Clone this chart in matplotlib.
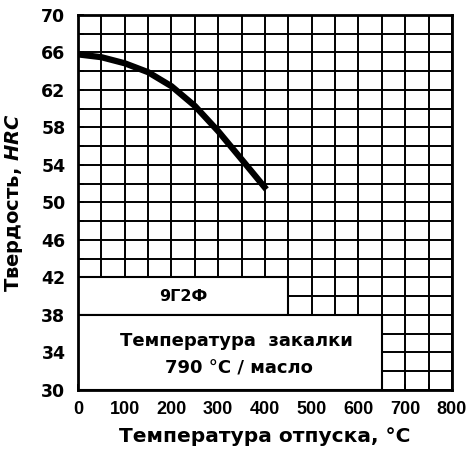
import matplotlib
matplotlib.use("Agg")
import matplotlib.pyplot as plt
import numpy as np
from matplotlib.patches import Rectangle
from matplotlib.ticker import MultipleLocator

# hardness curve (tempering temperature, HRC)
temp = [0, 50, 100, 150, 200, 250, 300, 350, 403]
hrc = [65.8, 65.5, 64.85, 63.9, 62.4, 60.3, 57.6, 54.6, 51.4]

x_ticks = list(range(0, 801, 100))
y_ticks = list(range(30, 71, 4))

steel = "9Г2Ф"
quench_line1 = "Температура  закалки"
quench_line2 = "790 °C / масло"

plt.rcParams["font.family"] = ["DejaVu Sans"]
plt.rcParams["mathtext.fontset"] = "custom"
plt.rcParams["mathtext.it"] = "DejaVu Sans:italic:bold"

fig = plt.figure(figsize=(4.69, 4.63), dpi=100)
ax = fig.add_axes([0.1663, 0.1577, 0.7974, 0.8099])

ax.set_xlim(0, 800)
ax.set_ylim(30, 70)

# grid every 50 deg / 2 HRC
ax.vlines(np.arange(0, 801, 50), 30, 70, color="black", lw=1.4, zorder=1)
ax.hlines(np.arange(30, 71, 2), 0, 800, color="black", lw=1.4, zorder=1)

# white label boxes sitting on the grid
ax.add_patch(Rectangle((0, 38), 450, 4, facecolor="white", edgecolor="black", lw=1.5, zorder=2))
ax.add_patch(Rectangle((0, 30), 650, 8, facecolor="white", edgecolor="black", lw=1.5, zorder=2))

ax.plot(temp, hrc, color="black", lw=4.5, solid_capstyle="butt", zorder=3)

ax.text(225, 40, steel, ha="center", va="center", fontsize=11.5, fontweight="bold", zorder=4)
ax.text(340, 35.2, quench_line1, ha="center", va="center", fontsize=13, fontweight="bold", zorder=4)
ax.text(345, 32.3, quench_line2, ha="center", va="center", fontsize=13, fontweight="bold", zorder=4)

ax.set_xticks(x_ticks)
ax.set_yticks(y_ticks)
ax.xaxis.set_minor_locator(MultipleLocator(50))
ax.yaxis.set_minor_locator(MultipleLocator(2))
ax.tick_params(which="both", direction="in", width=1.4, length=4, top=False, right=False)
ax.tick_params(axis="x", pad=8)
ax.tick_params(axis="y", pad=9)
for lab in ax.get_yticklabels():
    lab.set_fontsize(12.5)
    lab.set_fontweight("bold")
# x labels in the scan are condensed
for lab in ax.get_xticklabels():
    lab.set_family(["Liberation Sans", "DejaVu Sans"])
    lab.set_fontsize(13)
    lab.set_fontweight("bold")
for sp in ax.spines.values():
    sp.set_linewidth(2)
    sp.set_zorder(5)

ax.set_xlabel("Температура отпуска, °C", fontsize=14.5, fontweight="bold")
ax.set_ylabel("Твердость, $\\mathit{HRC}$", fontsize=14, fontweight="bold")
ax.xaxis.set_label_coords(0.5, -0.125)
ax.yaxis.set_label_coords(-0.17, 0.5)
ax.xaxis.label.set_va("center")
ax.yaxis.label.set_va("center")

fig.savefig("out.png", dpi=100)
